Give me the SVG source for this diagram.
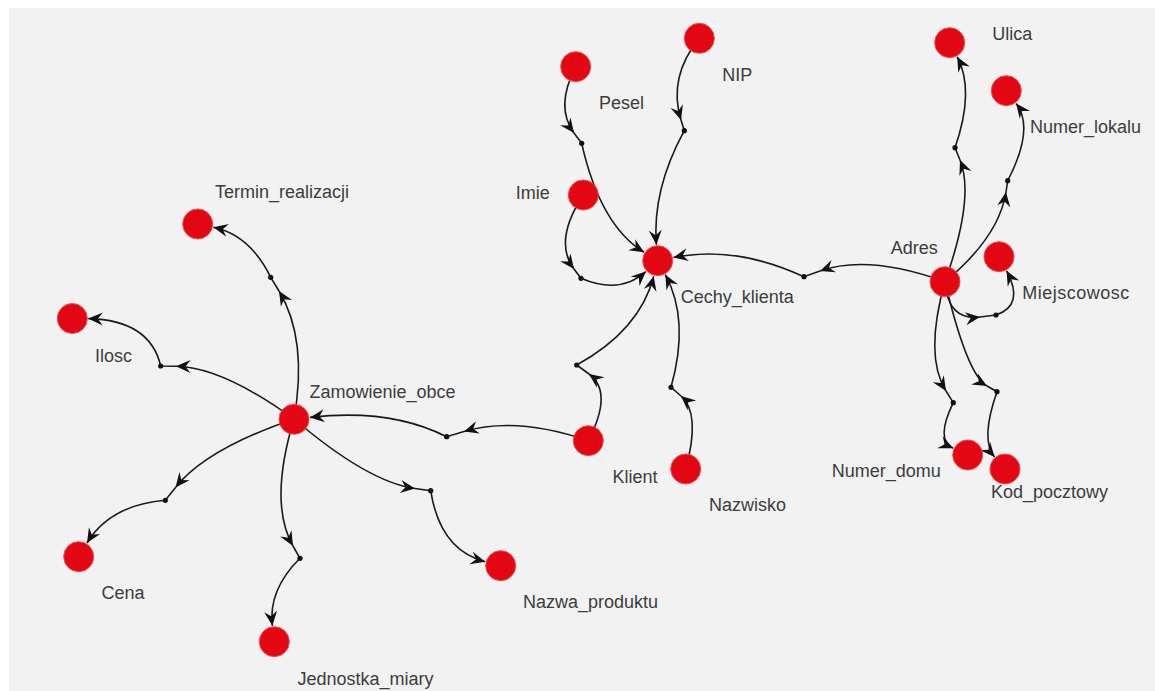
<svg xmlns="http://www.w3.org/2000/svg" width="1155" height="691" viewBox="0 0 1155 691">
<style>
.e{fill:none;stroke:#1a1a1a;stroke-width:1.6}
.a{marker-end:url(#ah)}
.d{fill:#111}
.n{fill:#e30613;stroke:#ef4a4a;stroke-width:1}
.t{font-family:"Liberation Sans",Arial,sans-serif;font-size:18px;fill:#3c3c3c}
</style>
<defs>
<marker id="ah" viewBox="-16 -8 17 16" refX="0" refY="0" markerWidth="17" markerHeight="16" markerUnits="userSpaceOnUse" orient="auto">
<path d="M0,0 L-14.5,-6.5 L-9.5,0 L-14.5,6.5 Z" fill="#111"/>
</marker>
</defs>
<rect x="0" y="0" width="1155" height="691" fill="#ffffff"/>
<rect x="9" y="8" width="1146" height="683" fill="#f2f2f2"/>
<g id="connectors">
<path class="e a" d="M294,419 Q308,339 279,291"/><path class="e a" d="M279,291 L270.7,277.3 Q250,235 213.4,227.3"/>
<path class="e a" d="M294,419 Q222,367 176,366.3"/><path class="e a" d="M176,366.3 L160.7,366 Q150,320 88.3,318.6"/>
<path class="e a" d="M294,419 Q206,449 175.5,487.5"/><path class="e a" d="M175.5,487.5 L165.3,500.3 Q110,505 87,543"/>
<path class="e a" d="M294,419 Q268.5,503 293,546"/><path class="e a" d="M293,546 L300,558.3 Q268,590 272.4,625.8"/>
<path class="e a" d="M294,419 Q368,482 415,488.5"/><path class="e a" d="M415,488.5 L430.7,490.7 Q440,550 485.2,561.7"/>
<path class="e a" d="M588.3,440.7 Q516,416 464,431.5"/><path class="e a" d="M464,431.5 L446.7,436.7 Q390,408 309.9,417.4"/>
<path class="e a" d="M588.3,440.7 Q613.6,392 589,374"/><path class="e a" d="M589,374 L576.7,365 Q640,330 653.7,276.2"/>
<path class="e a" d="M685.7,469 Q701,413.4 681,396"/><path class="e a" d="M681,396 L671,387.3 Q690,320 665.3,274.7"/>
<path class="e a" d="M575.7,66.7 Q554.75,107.25 574,133"/><path class="e a" d="M574,133 L581.7,143.3 Q600,225 644.1,252.3"/>
<path class="e a" d="M699.3,38.3 Q667.8,77.2 681,120"/><path class="e a" d="M681,120 L684.3,130.7 Q652,190 656.4,244.7"/>
<path class="e a" d="M583.3,195 Q553,241 574,269"/><path class="e a" d="M574,269 L581,278.3 Q620,295 645.9,271.5"/>
<path class="e a" d="M945,281.7 Q868,254 820,271"/><path class="e a" d="M820,271 L804,276.7 Q735,245 673.4,257.5"/>
<path class="e a" d="M945,281.7 Q975,197 960,160"/><path class="e a" d="M960,160 L955,147.7 Q975,90 957.2,56.8"/>
<path class="e a" d="M945,281.7 Q999,237 1006,192"/><path class="e a" d="M1006,192 L1007.7,180.7 Q1035,128 1016.1,103.4"/>
<path class="e a" d="M945,281.7 Q948,321 980,317"/><path class="e a" d="M980,317 L996,315 Q1025,305 1006.6,270.8"/>
<path class="e a" d="M945,281.7 Q924,356 946,391"/><path class="e a" d="M946,391 L953.3,402.7 Q935,440 953.2,448.3"/>
<path class="e a" d="M945,281.7 Q967,374.6 987,386"/><path class="e a" d="M987,386 L997,391.7 Q980,440 994.6,456.9"/>
<circle class="d" cx="270.7" cy="277.3" r="2.6"/>
<circle class="d" cx="160.7" cy="366" r="2.6"/>
<circle class="d" cx="165.3" cy="500.3" r="2.6"/>
<circle class="d" cx="300" cy="558.3" r="2.6"/>
<circle class="d" cx="430.7" cy="490.7" r="2.6"/>
<circle class="d" cx="446.7" cy="436.7" r="2.6"/>
<circle class="d" cx="576.7" cy="365" r="2.6"/>
<circle class="d" cx="671" cy="387.3" r="2.6"/>
<circle class="d" cx="581.7" cy="143.3" r="2.6"/>
<circle class="d" cx="684.3" cy="130.7" r="2.6"/>
<circle class="d" cx="581" cy="278.3" r="2.6"/>
<circle class="d" cx="804" cy="276.7" r="2.6"/>
<circle class="d" cx="955" cy="147.7" r="2.6"/>
<circle class="d" cx="1007.7" cy="180.7" r="2.6"/>
<circle class="d" cx="996" cy="315" r="2.6"/>
<circle class="d" cx="953.3" cy="402.7" r="2.6"/>
<circle class="d" cx="997" cy="391.7" r="2.6"/>
</g>
<g id="termin"><circle class="n" cx="197.7" cy="224" r="15"/><text class="t" x="215" y="198">Termin_realizacji</text></g>
<g id="ilosc"><circle class="n" cx="72.3" cy="318.5" r="15"/><text class="t" x="95" y="361.5">Ilosc</text></g>
<g id="zamowienie"><circle class="n" cx="294" cy="419.3" r="15"/><text class="t" x="309.5" y="398">Zamowienie_obce</text></g>
<g id="cena"><circle class="n" cx="78.7" cy="556.7" r="15"/><text class="t" x="101.5" y="599">Cena</text></g>
<g id="jednostka"><circle class="n" cx="274.3" cy="641.7" r="15"/><text class="t" x="297.5" y="685">Jednostka_miary</text></g>
<g id="nazwa"><circle class="n" cx="500.7" cy="565.7" r="15"/><text class="t" x="523" y="608">Nazwa_produktu</text></g>
<g id="klient"><circle class="n" cx="588.3" cy="440.7" r="15"/><text class="t" x="612.5" y="482.5">Klient</text></g>
<g id="nazwisko"><circle class="n" cx="685.7" cy="469" r="15"/><text class="t" x="709" y="510.5">Nazwisko</text></g>
<g id="cechy"><circle class="n" cx="657.7" cy="260.7" r="15"/><text class="t" x="680.7" y="302.5">Cechy_klienta</text></g>
<g id="imie"><circle class="n" cx="583.3" cy="195" r="15"/><text class="t" x="515.7" y="199.3">Imie</text></g>
<g id="pesel"><circle class="n" cx="575.7" cy="66.7" r="15"/><text class="t" x="599" y="109">Pesel</text></g>
<g id="nip"><circle class="n" cx="699.3" cy="38.3" r="15"/><text class="t" x="722.3" y="80.7">NIP</text></g>
<g id="adres"><circle class="n" cx="945" cy="281.7" r="15"/><text class="t" x="890.7" y="254">Adres</text></g>
<g id="ulica"><circle class="n" cx="949.7" cy="42.7" r="15"/><text class="t" x="992.3" y="40">Ulica</text></g>
<g id="numer_lokalu"><circle class="n" cx="1006.3" cy="90.7" r="15"/><text class="t" x="1030" y="133">Numer_lokalu</text></g>
<g id="miejscowosc"><circle class="n" cx="999" cy="256.7" r="15"/><text class="t" x="1022.3" y="299.3" letter-spacing="0.5">Miejscowosc</text></g>
<g id="numer_domu"><circle class="n" cx="967.7" cy="455" r="15"/><text class="t" x="831.7" y="477">Numer_domu</text></g>
<g id="kod_pocztowy"><circle class="n" cx="1005" cy="469" r="15"/><text class="t" x="991" y="498">Kod_pocztowy</text></g>
</svg>
